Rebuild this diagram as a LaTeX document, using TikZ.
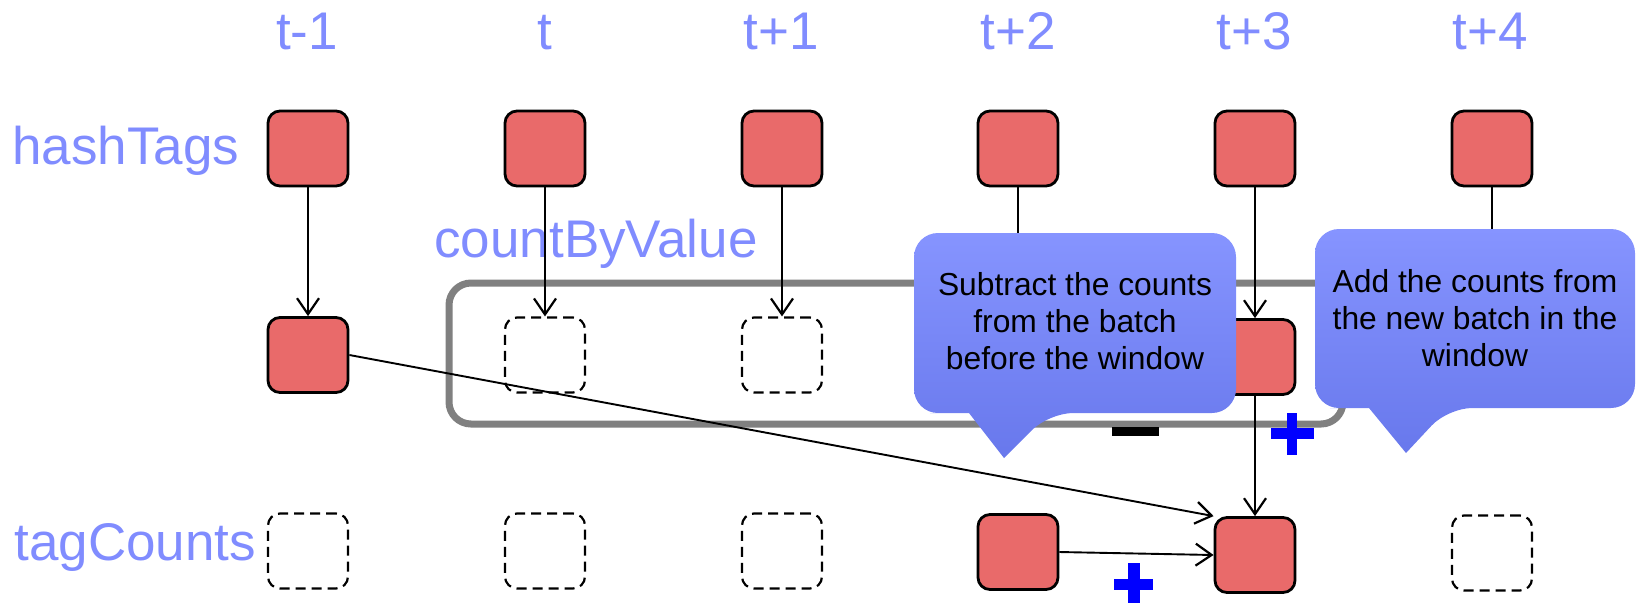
\documentclass[tikz,border=0pt]{standalone}
\usepackage{fontspec}
\setmainfont{Liberation Sans}
\usetikzlibrary{arrows.meta}
\definecolor{boxred}{RGB}{233,106,106}
\definecolor{lblue}{RGB}{128,140,255}
\definecolor{ctop}{RGB}{134,148,255}
\definecolor{cbot}{RGB}{104,120,236}
\definecolor{wgray}{RGB}{128,128,128}
\definecolor{pblue}{RGB}{0,0,255}
\begin{document}
\begin{tikzpicture}[x=0.5pt,y=-0.5pt,
  boxshape/.style={rectangle, minimum width=40pt, minimum height=37.5pt, inner sep=0pt, rounded corners=6pt},
  fullbox/.style={boxshape, draw=black, line width=1.4pt, fill=boxred},
  emptybox/.style={boxshape, draw=black, line width=1.1pt, dash pattern=on 5pt off 3pt},
  lbl/.style={text=lblue, font=\fontsize{26.5}{31}\selectfont, inner sep=0pt},
  flow/.style={draw=black, line width=0.95pt, -{Straight Barb[length=8pt,width=11pt,line width=1.1pt]}},
  ctext/.style={align=center, font=\fontsize{15.9}{18.6}\selectfont, text=black, inner sep=0pt},
  cshade/.style={top color=ctop, bottom color=cbot, draw=none},
  wnd/.style={draw=wgray, line width=3.5pt, rounded corners=11pt}
]
\useasboundingbox (0,0) rectangle (1639,602);

% column labels
\node[lbl, anchor=base] (l1) at (307,49) {t-1};
\node[lbl, anchor=base] (l2) at (545,49) {t};
\node[lbl, anchor=base] (l3) at (781,49) {t+1};
\node[lbl, anchor=base] (l4) at (1018,49) {t+2};
\node[lbl, anchor=base] (l5) at (1254,49) {t+3};
\node[lbl, anchor=base] (l6) at (1490,49) {t+4};

% row labels
\node[lbl, anchor=base west] (rh) at (12,164) {hashTags};
\node[lbl, anchor=base west] (rc) at (434,257) {countByValue};
\node[lbl, anchor=base west] (rt) at (14,560) {tagCounts};

% window
\draw[wnd] (449,283) rectangle (1343,424);

% hashTags row
\node[fullbox] (h1) at (308,148.5) {};
\node[fullbox] (h2) at (545,148.5) {};
\node[fullbox] (h3) at (782,148.5) {};
\node[fullbox] (h4) at (1018,148.5) {};
\node[fullbox] (h5) at (1255,148.5) {};
\node[fullbox] (h6) at (1492,148.5) {};

% countByValue row
\node[fullbox] (m1) at (308,355) {};
\node[emptybox] (m2) at (545,355) {};
\node[emptybox] (m3) at (782,355) {};
\node[boxshape] (m4) at (1018,355) {};
\node[fullbox] (m5) at (1255,357) {};
\node[boxshape] (m6) at (1492,355) {};

% tagCounts row
\node[emptybox] (b1) at (308,551) {};
\node[emptybox] (b2) at (545,551) {};
\node[emptybox] (b3) at (782,551) {};
\node[fullbox] (b4) at (1018,552) {};
\node[fullbox] (b5) at (1255,555) {};
\node[emptybox] (b6) at (1492,553) {};

% connectors
\foreach \i in {1,...,6} { \draw[flow] (h\i.south) -- (m\i.north); }
\draw[flow] (m5.south) -- (b5.north);
\draw[flow] (m1.east) -- (b5.north west);
\draw[flow] (b4.east) -- (b5.west);

% callouts
\shade[cshade] (1075,233) [rounded corners=12pt] -- (1236,233) -- (1236,413) -- (1049,413) [sharp corners] -- (1004,458) -- (969,413) -- (930,413) [rounded corners=12pt] -- (914,413) -- (914,233) -- cycle;
\node[ctext] (c1) at (1075,321) {Subtract the counts\\from the batch\\before the window};

\shade[cshade] (1475,229) [rounded corners=12pt] -- (1635,229) -- (1635,408) -- (1448,408) [sharp corners] -- (1406,453) -- (1369,408) -- (1330,408) [rounded corners=12pt] -- (1315,408) -- (1315,229) -- cycle;
\node[ctext] (c2) at (1475,318) {Add the counts from\\the new batch in the\\window};

% plus / minus signs
\fill[pblue] (1271,428) rectangle (1314,439);
\fill[pblue] (1287,413) rectangle (1297,455);
\fill[pblue] (1114,579) rectangle (1153,590);
\fill[pblue] (1128,563) rectangle (1140,605);
\fill[black] (1112,427) rectangle (1159,436);
\end{tikzpicture}
\end{document}
